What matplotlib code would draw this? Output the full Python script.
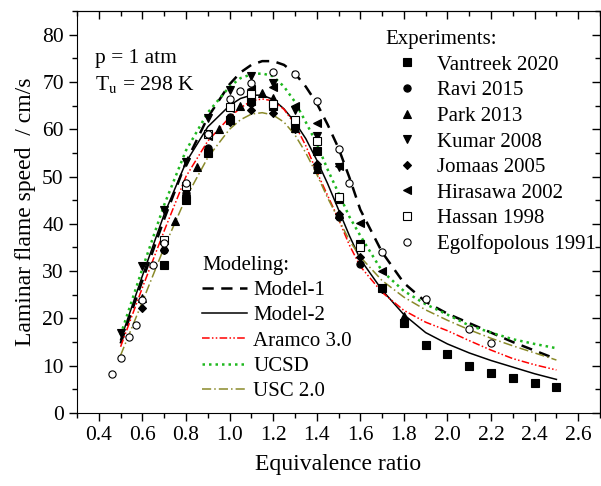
import matplotlib
matplotlib.use("Agg")
import matplotlib.pyplot as plt
from matplotlib.ticker import MultipleLocator

plt.rcParams["font.family"] = ["Liberation Serif", "DejaVu Serif"]
plt.rcParams["mathtext.fontset"] = "stix"

# --- model curves (equivalence ratio vs laminar flame speed, cm/s) ---
phi_model = [0.5, 0.6, 0.7, 0.8, 0.9, 1.0, 1.05, 1.1, 1.15, 1.2, 1.25, 1.3, 1.35, 1.4,
             1.45, 1.5, 1.55, 1.6, 1.7, 1.8, 1.9, 2.0, 2.1, 2.2, 2.3, 2.4, 2.5]
model1 = [14.7, 28, 41, 53, 62.5, 69.5, 72, 73.6, 74.4, 74.4, 73.6, 71.8, 69, 65.5,
          61, 56, 49.8, 43, 34, 27.5, 23.5, 21, 19, 17, 15, 13.2, 11.4]
model2 = [15.5, 29, 42, 53, 60.5, 65, 66.5, 67.2, 67.2, 66.3, 64.3, 61.5, 58, 53.5,
          48.5, 43, 37.5, 32.5, 26, 20.8, 17, 14.6, 12.7, 11.1, 9.7, 8.3, 7.1]
aramco = [14, 26.5, 38.5, 50, 57.5, 62.5, 64.5, 66, 66.4, 66, 64.2, 61, 56.5, 51,
          46, 41, 35.5, 31, 25.5, 21.7, 19.2, 17.4, 15.3, 13.3, 11.5, 10.2, 9.1]
ucsd = [16.5, 30.5, 44, 55.5, 63.5, 69, 70.8, 71.6, 71.8, 71.2, 69, 65.8, 61.5, 57,
        51.5, 46.5, 41.5, 37.5, 30, 25.8, 23, 20.8, 18.5, 17, 15.6, 14.6, 13.7]
usc = [12.2, 23.5, 35, 45.5, 54, 60, 62, 63.2, 63.5, 63, 61.5, 58.8, 55, 50.5,
       45.5, 41, 36.5, 33, 28, 24.5, 21.8, 19.6, 17.6, 15.8, 14.2, 12.7, 11.2]

# --- experiments ---
phi_vantreek = [0.7, 0.8, 0.9, 1.0, 1.1, 1.2, 1.3, 1.4, 1.5, 1.6, 1.7, 1.8, 1.9, 2.0,
                2.1, 2.2, 2.3, 2.4, 2.5]
su_vantreek = [31.3, 45, 55, 62, 65.9, 65, 61, 55.5, 45.3, 35.8, 26.5, 19, 14.3, 12.4,
               10, 8.5, 7.5, 6.4, 5.4]
phi_ravi = [0.7, 0.8, 0.9, 1.0, 1.1, 1.2, 1.3, 1.4, 1.5, 1.6]
su_ravi = [34.5, 46.5, 56, 62.5, 65.5, 65, 60.5, 52, 41.5, 31.6]
phi_park = [0.6, 0.75, 0.85, 0.95, 1.05, 1.15, 1.2, 1.3, 1.4, 1.5, 1.8]
su_park = [24.4, 40.5, 52, 60, 65, 67.6, 66.5, 60.2, 51.6, 42, 20.6]
phi_kumar = [0.5, 0.6, 0.7, 0.8, 0.9, 1.0, 1.1, 1.2, 1.3, 1.4, 1.5]
su_kumar = [17, 31, 43, 53, 62.4, 68.4, 71.2, 69.7, 64, 58.5, 52]
phi_jomaas = [0.6, 0.7, 0.8, 0.9, 1.0, 1.1, 1.2, 1.3, 1.4, 1.5, 1.6, 1.7]
su_jomaas = [22.3, 34.5, 46, 55.5, 61.5, 64, 63.4, 60, 52.6, 42, 33, 26.3]
phi_hirasawa = [0.9, 1.0, 1.1, 1.2, 1.3, 1.4, 1.5, 1.6, 1.7]
su_hirasawa = [58.5, 64.5, 68.5, 69, 65, 61.3, 52.2, 40.2, 30]
phi_hassan = [0.7, 0.8, 0.9, 1.0, 1.1, 1.2, 1.3, 1.4, 1.5, 1.6]
su_hassan = [36.5, 48, 59, 64.8, 67.5, 65.3, 62, 57.5, 45.7, 35]
phi_egolf = [0.46, 0.5, 0.54, 0.57, 0.6, 0.65, 0.7, 0.8, 0.9, 1.0, 1.05, 1.1, 1.2,
             1.3, 1.4, 1.5, 1.55, 1.7, 1.9, 2.1, 2.2]
su_egolf = [8.3, 11.6, 16, 18.7, 23.8, 31.2, 36, 48.6, 59, 66.3, 68, 69.7, 72.2,
            71.6, 65.9, 55.8, 48.6, 34, 24.2, 17.7, 14.7]

fig = plt.figure(figsize=(6.01, 4.86), dpi=100)
ax = fig.add_axes([77 / 601, 73 / 486, 523 / 601, 402 / 486])

model_lines = []
model_lines += ax.plot(phi_model, model1, color="black", ls=(0, (4.5, 3)), lw=1.8, label="Model-1")
model_lines += ax.plot(phi_model, model2, color="black", ls="-", lw=1.1, label="Model-2")
model_lines += ax.plot(phi_model, aramco, color="red", ls=(0, (5, 1.5, 1, 1.5, 1, 1.5)), lw=1.1,
                       label="Aramco 3.0")
model_lines += ax.plot(phi_model, ucsd, color="#1fb81f", ls=(0, (1, 1.6)), lw=1.8, label="UCSD")
model_lines += ax.plot(phi_model, usc, color="#8a8a2a", ls=(0, (6, 2, 1, 2)), lw=1.1, label="USC 2.0")

ms = 5.2
exp_sets = [
    (phi_vantreek, su_vantreek, "s", "black", "Vantreek 2020"),
    (phi_ravi, su_ravi, "o", "black", "Ravi 2015"),
    (phi_park, su_park, "^", "black", "Park 2013"),
    (phi_kumar, su_kumar, "v", "black", "Kumar 2008"),
    (phi_jomaas, su_jomaas, "D", "black", "Jomaas 2005"),
    (phi_hirasawa, su_hirasawa, "<", "black", "Hirasawa 2002"),
    (phi_hassan, su_hassan, "s", "white", "Hassan 1998"),
    (phi_egolf, su_egolf, "o", "white", "Egolfopolous 1991"),
]
exp_handles = []
for x, y, m, fc, lab in exp_sets:
    size = ms - 0.8 if m == "D" else ms
    h, = ax.plot(x, y, ls="none", marker=m, ms=size, mfc=fc, mec="black", mew=0.8,
                 label=lab, zorder=3)
    exp_handles.append(h)

ax.set_xlim(0.3, 2.7)
ax.set_ylim(0, 85)
ax.xaxis.set_minor_locator(MultipleLocator(0.1))
ax.yaxis.set_major_locator(MultipleLocator(10))
ax.yaxis.set_minor_locator(MultipleLocator(5))
ax.set_xticks([0.4, 0.6, 0.8, 1.0, 1.2, 1.4, 1.6, 1.8, 2.0, 2.2, 2.4, 2.6])
ax.set_xticklabels(["0.4", "0.6", "0.8", "1.0", "1.2", "1.4", "1.6", "1.8", "2.0",
                    "2.2", "2.4", "2.6"])
ax.tick_params(which="both", direction="out", top=False, right=False, labelsize=15.5)
ax.tick_params(which="major", length=6, width=1)
ax.tick_params(which="minor", length=3.5, width=1)
# mirrored inward ticks on top and right
for side in ("top", "right"):
    sec = ax.secondary_xaxis("top") if side == "top" else ax.secondary_yaxis("right")
    axis = sec.xaxis if side == "top" else sec.yaxis
    axis.set_major_locator(MultipleLocator(0.2 if side == "top" else 10))
    axis.set_minor_locator(MultipleLocator(0.1 if side == "top" else 5))
    sec.tick_params(which="both", direction="in", labelleft=False, labelright=False,
                    labeltop=False)
    sec.tick_params(which="major", length=6, width=1)
    sec.tick_params(which="minor", length=3.5, width=1)

ax.set_xlabel("Equivalence ratio", fontsize=17, labelpad=6)
ax.set_ylabel("Laminar flame speed  / cm/s", fontsize=17, labelpad=4)

ax.text(0.035, 0.882, "p = 1 atm", transform=ax.transAxes, fontsize=15.5, va="center")
ax.text(0.035, 0.818, r"T$_\mathrm{u}$ = 298 K", transform=ax.transAxes, fontsize=15.5,
        va="center")

leg1 = fig.legend(handles=exp_handles, title="Experiments:", loc="upper left",
                  bbox_to_anchor=(385 / 601, 1 - 30 / 486), frameon=False,
                  fontsize=15, title_fontsize=15, alignment="left", borderpad=0,
                  handlelength=2.1, handletextpad=0.4, labelspacing=0.29,
                  borderaxespad=0)
leg2 = fig.legend(handles=model_lines, title="Modeling:", loc="upper left",
                  bbox_to_anchor=(202 / 601, 1 - 256 / 486), frameon=False,
                  fontsize=15, title_fontsize=15, alignment="left", borderpad=0,
                  handlelength=2.15, handletextpad=0.3, labelspacing=0.27,
                  borderaxespad=0)

fig.savefig("out.png", dpi=100)
